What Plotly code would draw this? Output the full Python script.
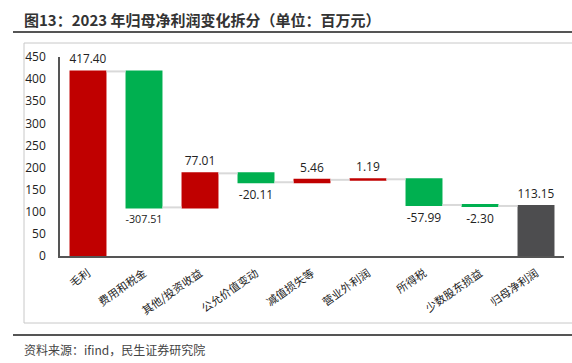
import plotly.graph_objects as go

categories = ["毛利", "费用和税金", "其他/投资收益", "公允价值变动", "减值损失等",
              "营业外利润", "所得税", "少数股东损益", "归母净利润"]
values = [417.40, -307.51, 77.01, -20.11, 5.46, 1.19, -57.99, -2.30, 113.15]
measures = ["relative"] * 8 + ["total"]
labels = [f"{v:.2f}" for v in values]

FONT = "Noto Sans CJK SC"
NUMFONT = "Open Sans, Noto Sans CJK SC"

fig = go.Figure(go.Waterfall(
    x=categories, y=values, measure=measures,
    text=labels, textposition="outside",
    textfont=dict(size=12, color="#222", family=NUMFONT),
    increasing=dict(marker=dict(color="#C00000")),
    decreasing=dict(marker=dict(color="#00B050")),
    totals=dict(marker=dict(color="#4D4D4F")),
    connector=dict(line=dict(color="#D9D9D9", width=2)),
    width=0.66, cliponaxis=False,
))

W, H = 572, 363
L, R, T, B = 60, 8, 57, 107
pw, ph = W - L - R, H - T - B

def px(x):
    return (x - L) / pw

def py(y):
    return (H - B - y) / ph

shapes = [
    dict(type="line", xref="paper", yref="paper", x0=px(13), x1=px(572), y0=py(32), y1=py(32),
         line=dict(color="#555", width=2)),
    dict(type="rect", xref="paper", yref="paper", x0=px(24), x1=px(575), y0=py(43), y1=py(323),
         line=dict(color="#C8C8C8", width=1)),
    dict(type="line", xref="paper", yref="paper", x0=px(13), x1=px(572), y0=py(335), y1=py(335),
         line=dict(color="#555", width=2)),
]

annotations = [
    dict(text="<b>图13：2023 年归母净利润变化拆分（单位：百万元）</b>", xref="paper", yref="paper",
         x=px(22), y=py(20), xanchor="left", yanchor="middle", showarrow=False,
         font=dict(size=15, color="#333", family=FONT)),
    dict(text="资料来源：ifind，民生证券研究院", xref="paper", yref="paper",
         x=px(22), y=py(349), xanchor="left", yanchor="middle", showarrow=False,
         font=dict(size=12, color="#444", family=FONT)),
]

fig.update_layout(
    width=W, height=H, margin=dict(l=L, r=R, t=T, b=B),
    paper_bgcolor="white", plot_bgcolor="white",
    showlegend=False, shapes=shapes, annotations=annotations,
    font=dict(family=FONT, color="#222"),
    xaxis=dict(tickangle=-35, tickfont=dict(size=11, color="#222"), showline=True,
               linecolor="#555", linewidth=1.5, ticks="", showgrid=False, automargin=False,
               ticklabelstandoff=5),
    yaxis=dict(range=[0, 450], dtick=50, tickfont=dict(size=12, color="#222", family=NUMFONT),
               showline=True, linecolor="#555", linewidth=1.5, ticks="", showgrid=False,
               zeroline=False, ticklabelstandoff=10, automargin=False),
)

fig.write_html("out.html", config={"displayModeBar": False},
               post_script="document.body.style.margin='0';")
